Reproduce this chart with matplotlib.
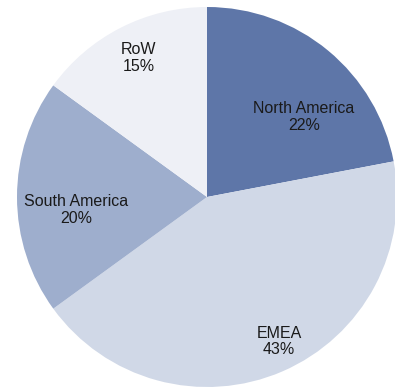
import matplotlib
matplotlib.use("Agg")
import matplotlib.pyplot as plt

# regional split of revenue
regions = ["North America", "EMEA", "South America", "RoW"]
shares = [22, 43, 20, 15]
colors = ["#5e76a8", "#d0d8e7", "#9eaecd", "#eef0f6"]

# label centres in data units (pie radius = 1)
label_xy = [(0.51, 0.42), (0.38, -0.76), (-0.69, -0.07), (-0.36, 0.73)]

plt.rcParams["font.family"] = ["Liberation Sans", "DejaVu Sans"]

fig = plt.figure(figsize=(3.95, 3.88), dpi=100)
ax = fig.add_axes([0, 0, 1, 1])

ax.pie(shares, colors=colors, startangle=90, counterclock=False,
       radius=1.0, wedgeprops=dict(linewidth=0))

for name, val, (x, y) in zip(regions, shares, label_xy):
    ax.text(x, y, f"{name}\n{val}%", ha="center", va="center",
            fontsize=11.5, color="#1a1a1a", linespacing=1.15)

r = 190.0
ax.set_xlim(-207 / r, (395 - 207) / r)
ax.set_ylim(-(388 - 197) / r, 197 / r)
ax.set_aspect("equal")
ax.axis("off")

fig.savefig("out.png", dpi=100)
